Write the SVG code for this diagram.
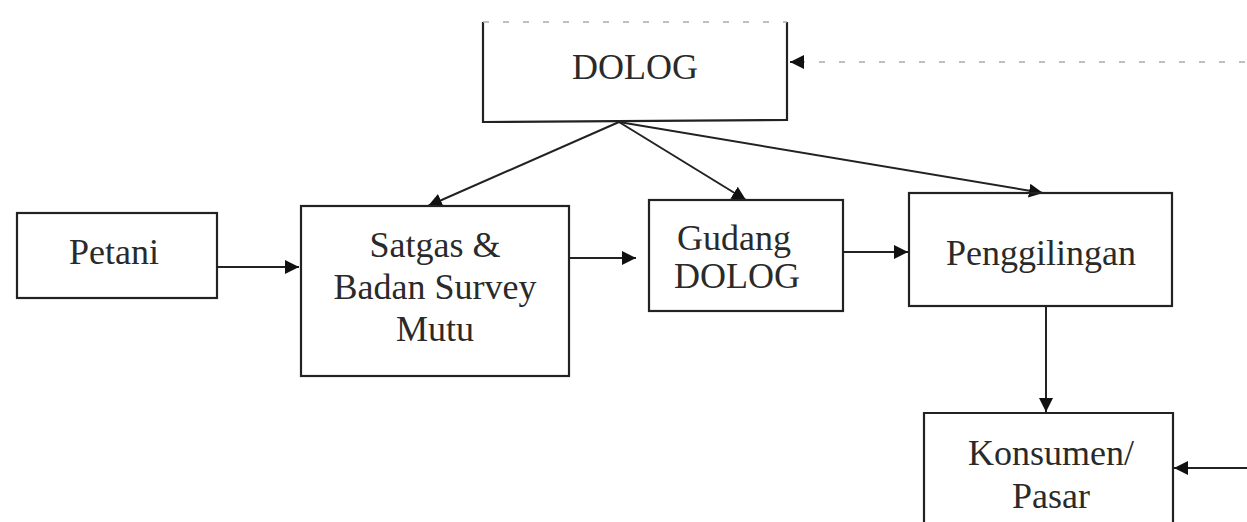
<svg xmlns="http://www.w3.org/2000/svg" width="1247" height="522" viewBox="0 0 1247 522">
<defs>
<style>
.box{fill:none;stroke:#222;stroke-width:2.2}
.t{font-family:"Liberation Serif","Times New Roman",serif;font-size:36px;fill:#2a2a2a;text-anchor:middle}
.c{stroke:#222;stroke-width:2;fill:none}
.d{stroke:#aaa;stroke-width:1.5;fill:none;stroke-dasharray:6 14}
</style>
<marker id="ah" viewBox="0 0 10 10" refX="10" refY="5" markerWidth="14" markerHeight="14" markerUnits="userSpaceOnUse" orient="auto">
<path d="M0,0 L10,5 L0,10 Z" fill="#111"/>
</marker>
</defs>
<rect width="1247" height="522" fill="#fff"/>
<g id="connectors">
<path class="d" d="M1245,62 L800,62"/>
<path class="c" d="M800,62 L790,62" marker-end="url(#ah)"/>
<path class="c" d="M217,267 L299,267" marker-end="url(#ah)"/>
<path class="c" d="M569,258 L636,258" marker-end="url(#ah)"/>
<path class="c" d="M843,252 L908,252" marker-end="url(#ah)"/>
<path class="c" d="M619,122 L428,206" marker-end="url(#ah)"/>
<path class="c" d="M619,122 L746,200" marker-end="url(#ah)"/>
<path class="c" d="M619,122 L1043,193" marker-end="url(#ah)"/>
<path class="c" d="M1046,306 L1046,412" marker-end="url(#ah)"/>
<path class="c" d="M1247,468 L1174,468" marker-end="url(#ah)"/>
</g>
<g id="dolog">
<path class="box" d="M483,22 L483,122 L787,120 L787,22"/>
<path class="d" d="M483,22 L787,22"/>
<text class="t" x="635" y="79">DOLOG</text>
</g>
<g id="petani">
<rect class="box" x="17" y="213" width="200" height="85"/>
<text class="t" x="114" y="264">Petani</text>
</g>
<g id="satgas">
<rect class="box" x="301" y="206" width="268" height="170"/>
<text class="t" x="435" y="257">Satgas &amp;</text>
<text class="t" x="435" y="299">Badan Survey</text>
<text class="t" x="435" y="341">Mutu</text>
</g>
<g id="gudang">
<rect class="box" x="649" y="200" width="194" height="111"/>
<text class="t" x="734" y="250">Gudang</text>
<text class="t" x="737" y="288">DOLOG</text>
</g>
<g id="penggilingan">
<rect class="box" x="909" y="193" width="263" height="113"/>
<text class="t" x="1041" y="265">Penggilingan</text>
</g>
<g id="konsumen">
<path class="box" d="M924,523 L924,413 L1173,413 L1173,523"/>
<text class="t" x="1051" y="465">Konsumen/</text>
<text class="t" x="1051" y="508">Pasar</text>
</g>
</svg>
